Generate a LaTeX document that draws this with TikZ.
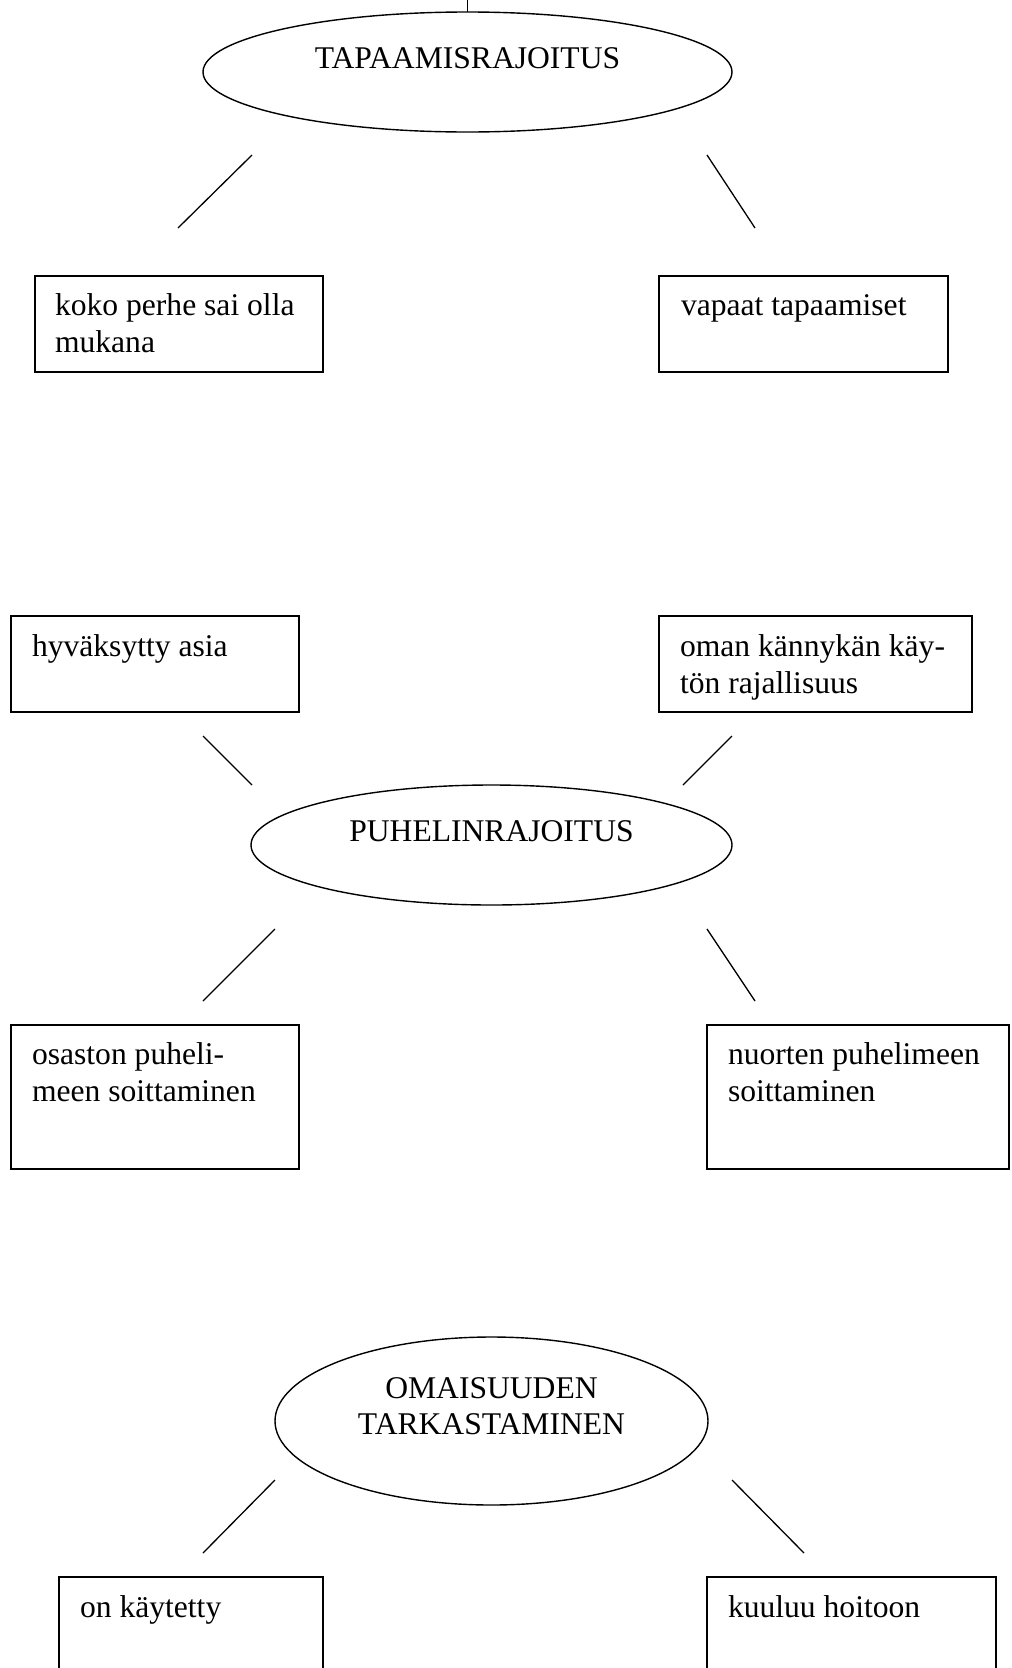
\documentclass[tikz,border=0pt]{standalone}
\usepackage{fontspec}
\setmainfont{Liberation Serif}
\usetikzlibrary{shapes.geometric}
\begin{document}
\begin{tikzpicture}[x=1pt,y=-1pt,
  every node/.style={font=\fontsize{31.6}{37}\selectfont, inner sep=0pt, outer sep=0pt},
  oval/.style={ellipse, draw, line width=1.4pt, inner sep=0pt},
  tbox/.style={rectangle, draw, line width=1.8pt, inner sep=0pt},
  lbl/.style={anchor=base west},
  ctr/.style={anchor=base},
  conn/.style={line width=1.3pt}]
\useasboundingbox (0,0) rectangle (1012,1668);
\clip (0,0) rectangle (1012,1668);

% ---------- TAPAAMISRAJOITUS ----------
\node[oval, minimum width=529pt, minimum height=120pt] (e1) at (467.5,72) {};
\node[ctr] (e1t) at (467.5,68) {TAPAAMISRAJOITUS};
\coordinate (tk) at (467.5,0);
\draw[line width=0.8pt] (tk) -- (e1.north);

\node[tbox, minimum width=288pt, minimum height=96pt] (b1) at (179,324) {};
\node[lbl] (b1a) at (55,315) {koko perhe sai olla};
\node[lbl] (b1b) at (55,352) {mukana};
\node[tbox, minimum width=289pt, minimum height=96pt] (b2) at (803.5,324) {};
\node[lbl] (b2a) at (681,315) {vapaat tapaamiset};

\coordinate (c1a) at (252,155); \coordinate (c1b) at (178,228);
\coordinate (c2a) at (707,155); \coordinate (c2b) at (755,228);
\draw[conn] (c1a) -- (c1b);
\draw[conn] (c2a) -- (c2b);

% ---------- PUHELINRAJOITUS ----------
\node[tbox, minimum width=288pt, minimum height=96pt] (b3) at (155,664) {};
\node[lbl] (b3a) at (32,656) {hyväksytty asia};
\node[tbox, minimum width=313pt, minimum height=96pt] (b4) at (815.5,664) {};
\node[lbl] (b4a) at (680,656) {oman kännykän käy-};
\node[lbl] (b4b) at (680,693) {tön rajallisuus};

\coordinate (c3a) at (203,736); \coordinate (c3b) at (252,785);
\coordinate (c4a) at (732,736); \coordinate (c4b) at (683,785);
\draw[conn] (c3a) -- (c3b);
\draw[conn] (c4a) -- (c4b);

\node[oval, minimum width=481pt, minimum height=120pt] (e2) at (491.5,845) {};
\node[ctr] (e2t) at (491.5,841) {PUHELINRAJOITUS};

\coordinate (c5a) at (275,929); \coordinate (c5b) at (203,1001);
\coordinate (c6a) at (707,929); \coordinate (c6b) at (755,1001);
\draw[conn] (c5a) -- (c5b);
\draw[conn] (c6a) -- (c6b);

\node[tbox, minimum width=288pt, minimum height=144pt] (b5) at (155,1097) {};
\node[lbl] (b5a) at (32,1064) {osaston puheli-};
\node[lbl] (b5b) at (32,1101) {meen soittaminen};
\node[tbox, minimum width=302pt, minimum height=144pt] (b6) at (858,1097) {};
\node[lbl] (b6a) at (728,1064) {nuorten puhelimeen};
\node[lbl] (b6b) at (728,1101) {soittaminen};

% ---------- OMAISUUDEN TARKASTAMINEN ----------
\node[oval, minimum width=433pt, minimum height=168pt] (e3) at (491.5,1421) {};
\node[ctr] (e3a) at (491.5,1398) {OMAISUUDEN};
\node[ctr] (e3b) at (491.5,1434) {TARKASTAMINEN};

\coordinate (c7a) at (275,1480); \coordinate (c7b) at (203,1553);
\coordinate (c8a) at (732,1480); \coordinate (c8b) at (804,1553);
\draw[conn] (c7a) -- (c7b);
\draw[conn] (c8a) -- (c8b);

\node[tbox, minimum width=264pt, minimum height=123pt] (b7) at (191,1638.5) {};
\node[lbl] (b7a) at (80,1617) {on käytetty};
\node[tbox, minimum width=289pt, minimum height=123pt] (b8) at (851.5,1638.5) {};
\node[lbl] (b8a) at (728,1617) {kuuluu hoitoon};
\end{tikzpicture}
\end{document}
